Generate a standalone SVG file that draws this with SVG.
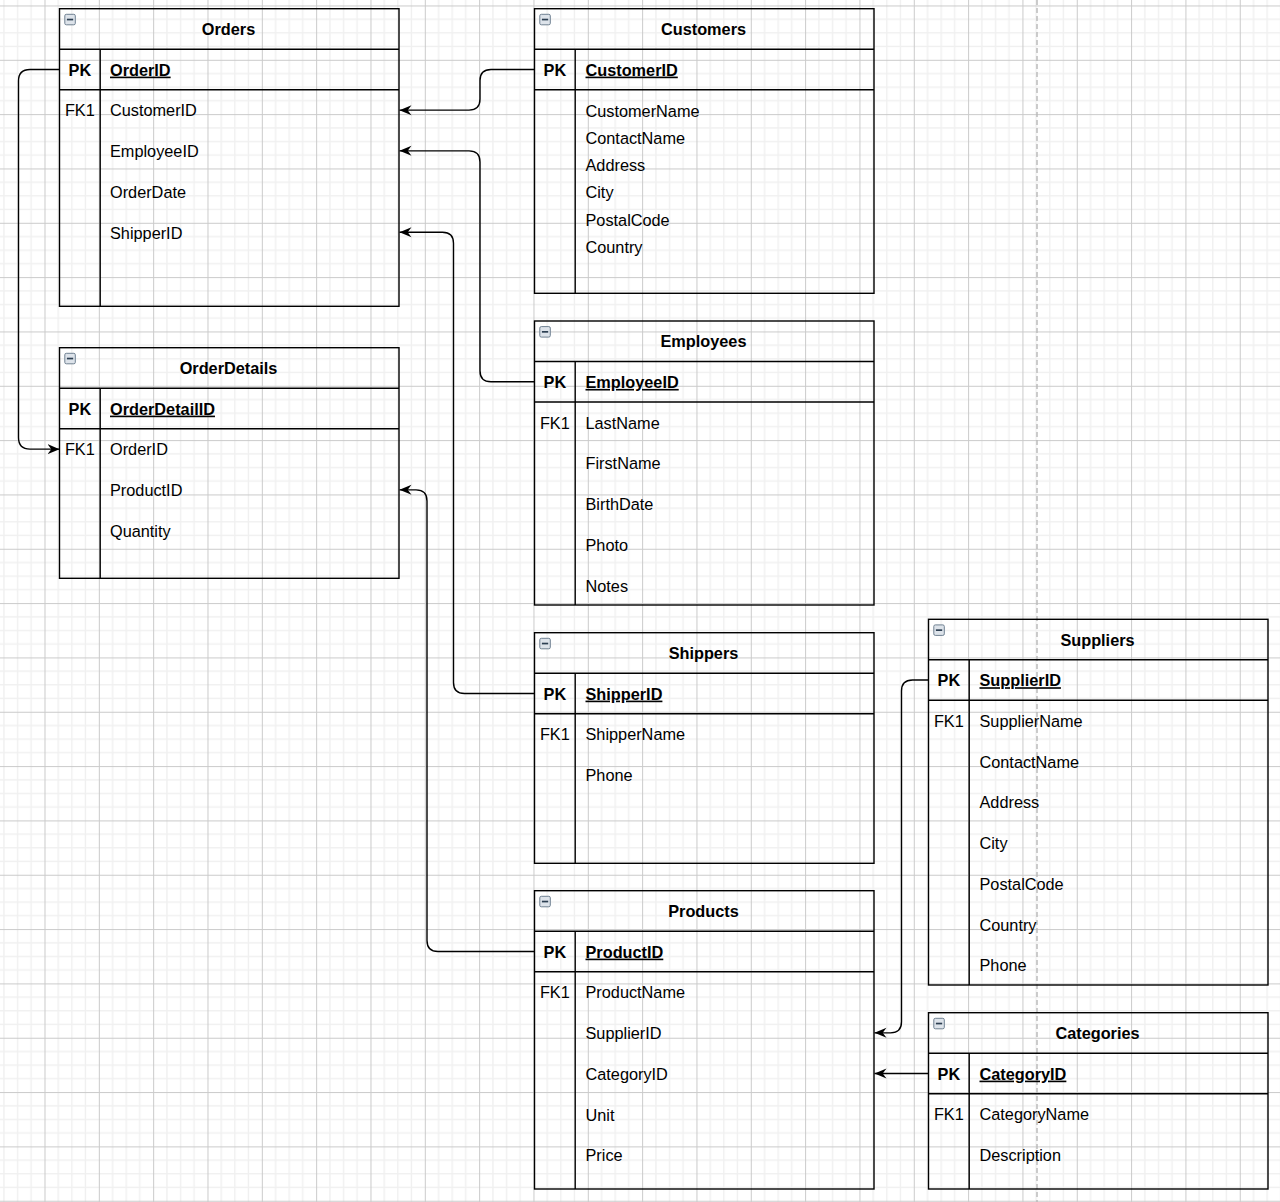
<svg xmlns="http://www.w3.org/2000/svg" xmlns:xlink="http://www.w3.org/1999/xlink" width="1280" height="1202" viewBox="0 0 1280 1202">
<defs>
<style>
.box{fill:none;stroke:#000;stroke-width:1.4}
.ln{fill:none;stroke:#000;stroke-width:1.4}
text{font-family:"Liberation Sans",Arial,Helvetica,sans-serif;font-size:16.3px;fill:#000}
.title{font-weight:bold;text-anchor:middle}
.key{text-anchor:middle}
.kb{font-weight:bold;text-anchor:middle}
.pk{font-weight:bold;text-decoration:underline}
.edge{fill:none;stroke:#000;stroke-width:1.4}
</style>
<pattern id="grid" patternUnits="userSpaceOnUse" x="44.5" y="59.8" width="54.33" height="54.33">
<rect x="13.08" y="0" width="1.4" height="54.33" fill="#f0f0f0"/>
<rect x="26.67" y="0" width="1.4" height="54.33" fill="#f0f0f0"/>
<rect x="40.25" y="0" width="1.4" height="54.33" fill="#f0f0f0"/>
<rect x="0" y="13.08" width="54.33" height="1.4" fill="#f0f0f0"/>
<rect x="0" y="26.67" width="54.33" height="1.4" fill="#f0f0f0"/>
<rect x="0" y="40.25" width="54.33" height="1.4" fill="#f0f0f0"/>
<rect x="0" y="0" width="1" height="54.33" fill="#cacaca"/>
<rect x="0" y="0" width="54.33" height="1" fill="#cacaca"/>
</pattern>
<g id="icon">
<rect x="0.5" y="0.5" width="10.5" height="10.5" rx="1.5" fill="#dde3ea" stroke="#6f8091" stroke-width="1"/>
<path d="M2.6,5.75 H8.9" stroke="#2d3f52" stroke-width="1.7"/>
</g>
<marker id="arr" markerUnits="userSpaceOnUse" viewBox="0 -6 13 12" refX="12" refY="0" markerWidth="13" markerHeight="12" orient="auto">
<path d="M12,0 L0,-5 L3.8,0 L0,5 Z" fill="#000"/>
</marker>
</defs>
<rect x="0" y="0" width="1280" height="1202" fill="#ffffff"/>
<rect x="0" y="0" width="1280" height="1202" fill="url(#grid)"/>
<path d="M1037,0 V1202" stroke="#b8b8b8" stroke-width="1.4" stroke-dasharray="5 3" fill="none"/>

<g id="connectors">
<path class="edge" marker-end="url(#arr)" d="M59.5,69.45 H30 Q18.5,69.45 18.5,81 V437.6 Q18.5,449.15 30,449.15 H59.5"/>
<path class="edge" marker-end="url(#arr)" d="M534.5,69.45 H491 Q480,69.45 480,80.5 V99.1 Q480,110.15 469,110.15 H399.5"/>
<path class="edge" marker-end="url(#arr)" d="M534.5,381.75 H491 Q480,381.75 480,370.7 V161.9 Q480,150.85 469,150.85 H399.5"/>
<path class="edge" marker-end="url(#arr)" d="M534.5,693.45 H464.5 Q453.5,693.45 453.5,682.4 V243.3 Q453.5,232.25 442.5,232.25 H399.5"/>
<path class="edge" marker-end="url(#arr)" d="M534.5,951.45 H438 Q427,951.45 427,940.4 V500.9 Q427,489.85 416,489.85 H399.5"/>
<path class="edge" marker-end="url(#arr)" d="M928.5,680.05 H912.5 Q901.5,680.05 901.5,691.1 V1021.8 Q901.5,1032.85 890.5,1032.85 H874.5"/>
<path class="edge" marker-end="url(#arr)" d="M928.5,1073.5 H874.5"/>
</g>

<g id="orders">
<rect class="box" x="59.5" y="8.7" width="339.5" height="297.6"/>
<path class="ln" d="M59.5,49.2 H399 M59.5,89.7 H399 M100.2,49.2 V306.3"/>
<use xlink:href="#icon" x="64.3" y="13.8"/>
<text class="title" x="228.5" y="35">Orders</text>
<text class="kb" x="79.85" y="75.6">PK</text>
<text class="pk" x="110" y="75.6">OrderID</text>
<text class="key" x="79.85" y="116.4">FK1</text>
<text x="110" y="116.4">CustomerID</text>
<text x="110" y="157.1">EmployeeID</text>
<text x="110" y="197.8">OrderDate</text>
<text x="110" y="238.5">ShipperID</text>
</g>

<g id="orderdetails">
<rect class="box" x="59.5" y="347.7" width="339.5" height="230.6"/>
<path class="ln" d="M59.5,388.2 H399 M59.5,428.7 H399 M100.2,388.2 V578.3"/>
<use xlink:href="#icon" x="64.3" y="352.8"/>
<text class="title" x="228.5" y="374">OrderDetails</text>
<text class="kb" x="79.85" y="414.6">PK</text>
<text class="pk" x="110" y="414.6">OrderDetailID</text>
<text class="key" x="79.85" y="455.4">FK1</text>
<text x="110" y="455.4">OrderID</text>
<text x="110" y="496.1">ProductID</text>
<text x="110" y="536.8">Quantity</text>
</g>

<g id="customers">
<rect class="box" x="534.5" y="8.7" width="339.5" height="284.6"/>
<path class="ln" d="M534.5,49.2 H874 M534.5,89.7 H874 M575.2,49.2 V293.3"/>
<use xlink:href="#icon" x="539.3" y="13.8"/>
<text class="title" x="703.5" y="35">Customers</text>
<text class="kb" x="554.85" y="75.6">PK</text>
<text class="pk" x="585.5" y="75.6">CustomerID</text>
<text x="585.5" y="116.7">CustomerName</text>
<text x="585.5" y="143.9">ContactName</text>
<text x="585.5" y="171.1">Address</text>
<text x="585.5" y="198.3">City</text>
<text x="585.5" y="225.5">PostalCode</text>
<text x="585.5" y="252.7">Country</text>
</g>

<g id="employees">
<rect class="box" x="534.5" y="321" width="339.5" height="284"/>
<path class="ln" d="M534.5,361.5 H874 M534.5,402 H874 M575.2,361.5 V605"/>
<use xlink:href="#icon" x="539.3" y="326.1"/>
<text class="title" x="703.5" y="347.3">Employees</text>
<text class="kb" x="554.85" y="387.9">PK</text>
<text class="pk" x="585.5" y="387.9">EmployeeID</text>
<text class="key" x="554.85" y="428.7">FK1</text>
<text x="585.5" y="428.7">LastName</text>
<text x="585.5" y="469.4">FirstName</text>
<text x="585.5" y="510.1">BirthDate</text>
<text x="585.5" y="550.8">Photo</text>
<text x="585.5" y="591.5">Notes</text>
</g>

<g id="shippers">
<rect class="box" x="534.5" y="632.7" width="339.5" height="230.6"/>
<path class="ln" d="M534.5,673.2 H874 M534.5,713.7 H874 M575.2,673.2 V863.3"/>
<use xlink:href="#icon" x="539.3" y="637.8"/>
<text class="title" x="703.5" y="659">Shippers</text>
<text class="kb" x="554.85" y="699.6">PK</text>
<text class="pk" x="585.5" y="699.6">ShipperID</text>
<text class="key" x="554.85" y="740.4">FK1</text>
<text x="585.5" y="740.4">ShipperName</text>
<text x="585.5" y="781.1">Phone</text>
</g>

<g id="products">
<rect class="box" x="534.5" y="890.7" width="339.5" height="298.3"/>
<path class="ln" d="M534.5,931.2 H874 M534.5,971.7 H874 M575.2,931.2 V1189"/>
<use xlink:href="#icon" x="539.3" y="895.8"/>
<text class="title" x="703.5" y="917">Products</text>
<text class="kb" x="554.85" y="957.6">PK</text>
<text class="pk" x="585.5" y="957.6">ProductID</text>
<text class="key" x="554.85" y="998.4">FK1</text>
<text x="585.5" y="998.4">ProductName</text>
<text x="585.5" y="1039.1">SupplierID</text>
<text x="585.5" y="1079.8">CategoryID</text>
<text x="585.5" y="1120.5">Unit</text>
<text x="585.5" y="1161.2">Price</text>
</g>

<g id="suppliers">
<rect class="box" x="928.5" y="619.3" width="339.5" height="365.7"/>
<path class="ln" d="M928.5,659.8 H1268 M928.5,700.3 H1268 M969.2,659.8 V985"/>
<use xlink:href="#icon" x="933.3" y="624.4"/>
<text class="title" x="1097.5" y="645.6">Suppliers</text>
<text class="kb" x="948.85" y="686.2">PK</text>
<text class="pk" x="979.5" y="686.2">SupplierID</text>
<text class="key" x="948.85" y="727">FK1</text>
<text x="979.5" y="727">SupplierName</text>
<text x="979.5" y="767.7">ContactName</text>
<text x="979.5" y="808.4">Address</text>
<text x="979.5" y="849.1">City</text>
<text x="979.5" y="889.8">PostalCode</text>
<text x="979.5" y="930.5">Country</text>
<text x="979.5" y="971.2">Phone</text>
</g>

<g id="categories">
<rect class="box" x="928.5" y="1012.7" width="339.5" height="176.3"/>
<path class="ln" d="M928.5,1053.2 H1268 M928.5,1093.7 H1268 M969.2,1053.2 V1189"/>
<use xlink:href="#icon" x="933.3" y="1017.8"/>
<text class="title" x="1097.5" y="1039">Categories</text>
<text class="kb" x="948.85" y="1079.6">PK</text>
<text class="pk" x="979.5" y="1079.6">CategoryID</text>
<text class="key" x="948.85" y="1120.4">FK1</text>
<text x="979.5" y="1120.4">CategoryName</text>
<text x="979.5" y="1161.1">Description</text>
</g>
</svg>
